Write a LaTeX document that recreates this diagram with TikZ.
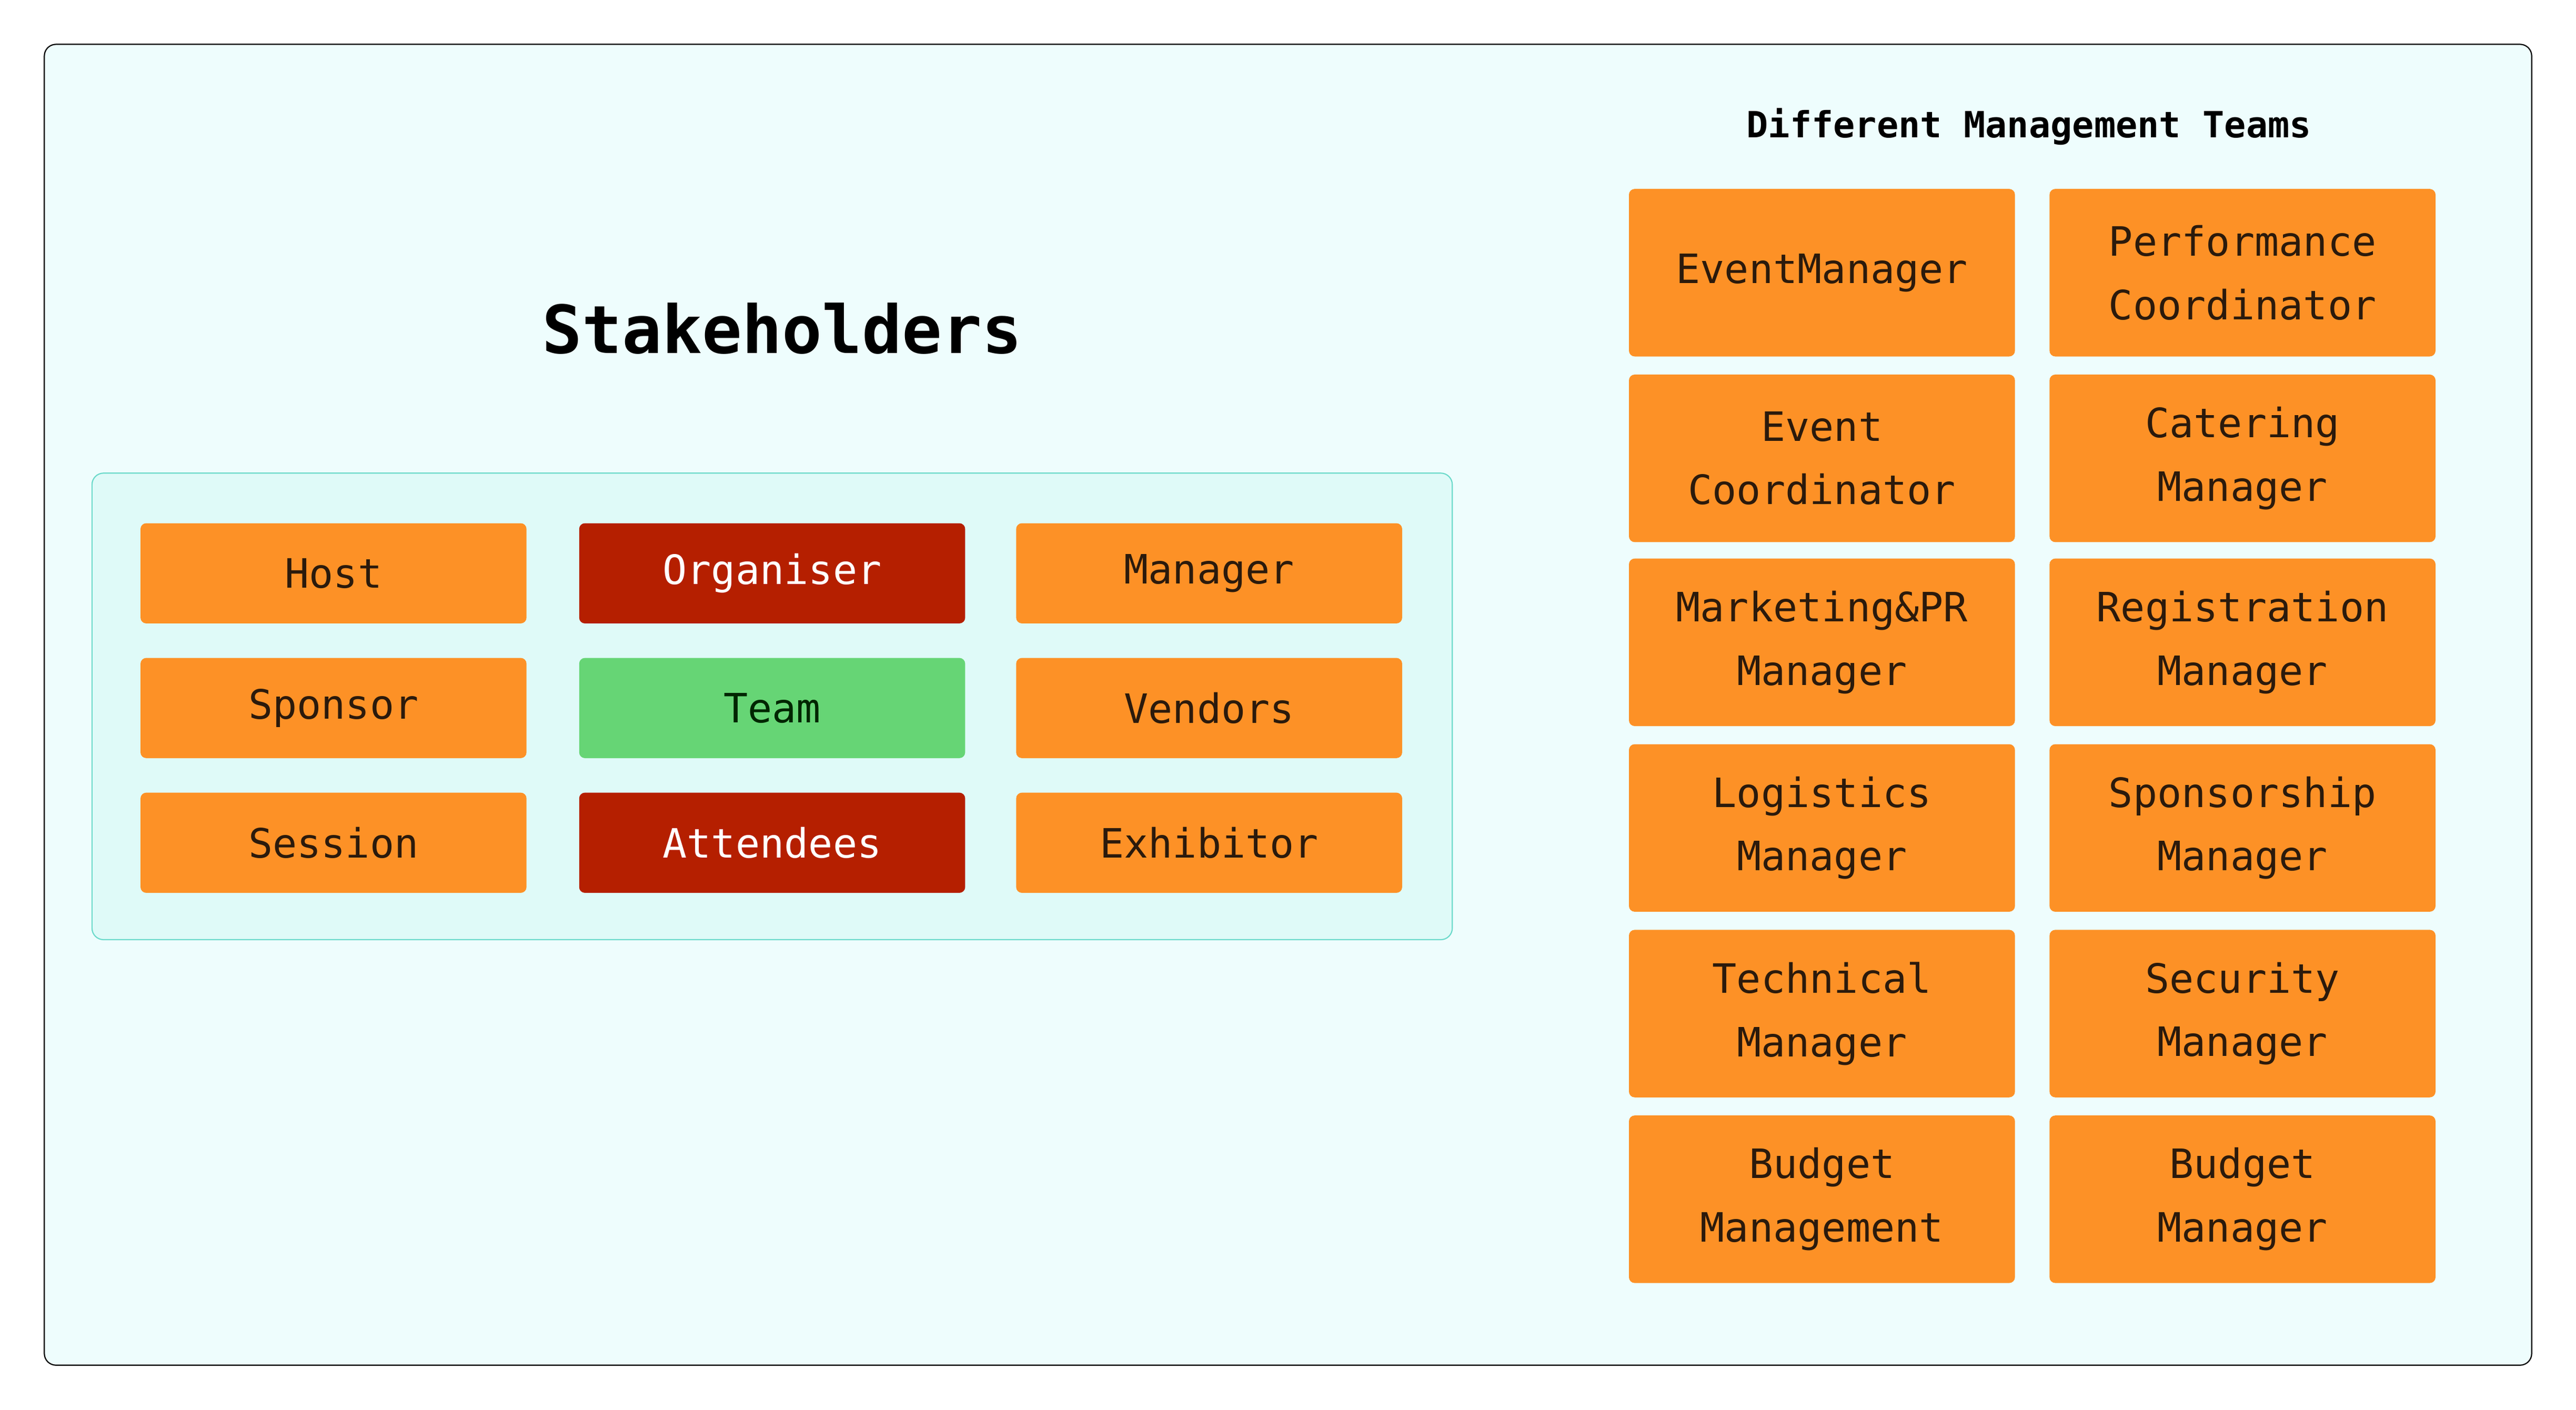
\documentclass[tikz,border=0pt]{standalone}
\usepackage{fontspec}
\setmainfont{DejaVu Sans Mono}
\usetikzlibrary{positioning}
\definecolor{frameback}{HTML}{EEFDFD}
\definecolor{innerback}{HTML}{DFFAF8}
\definecolor{innerline}{HTML}{6DDACB}
\definecolor{orangebox}{HTML}{FD9126}
\definecolor{redbox}{HTML}{B51F00}
\definecolor{greenbox}{HTML}{66D575}
\definecolor{darktext}{HTML}{2B1A0C}
\tikzset{
  role/.style={rectangle, rounded corners=2pt, fill=orangebox, text=darktext,
    minimum width=4.7cm, minimum height=1.22cm, inner sep=0pt, font=\fontsize{14}{17}\selectfont},
  lead/.style={role, fill=redbox, text=white},
  crew/.style={role, fill=greenbox, text=black!85!green},
  teambox/.style={role, minimum height=2.04cm, align=center, font=\fontsize{14}{22}\selectfont}
}
\begin{document}
\begin{tikzpicture}[x=0.02cm, y=-0.02cm]
        \useasboundingbox[fill=white] (0,0) rectangle (1568,858);
        % Frames
        \draw[fill=frameback, rounded corners=4pt] (27,27) rectangle (1541,831);
        \draw[fill=innerback, draw=innerline, rounded corners=4pt] (56,288) rectangle (884,572);
        
        % Titles
        \node (stake) at (476,200) {\fontsize{23}{26}\selectfont\bfseries Stakeholders};
        \node (teams) at (1235,77) {\fontsize{12.5}{15}\selectfont\bfseries Different Management Teams};
        
        % Stakeholders
        \node (host) [role] at (203,349) {Host};
        \node (organiser) [lead] at (470,349) {Organiser};
        \node (manager) [role] at (736,349) {Manager};
        \node (sponsor) [role] at (203,431) {Sponsor};
        \node (team) [crew] at (470,431) {Team};
        \node (vendors) [role] at (736,431) {Vendors};
        \node (session) [role] at (203,513) {Session};
        \node (attendees) [lead] at (470,513) {Attendees};
        \node (exhibitor) [role] at (736,513) {Exhibitor};
        
        % Management teams
        \node (eventmgr) [teambox] at (1109,166) {EventManager};
        \node (perfco) [teambox] at (1365,166) {Performance\\Coordinator};
        \node (eventco) [teambox] at (1109,279) {Event\\Coordinator};
        \node (catering) [teambox] at (1365,279) {Catering\\Manager};
        \node (marketing) [teambox] at (1109,391) {Marketing\&PR\\Manager};
        \node (registration) [teambox] at (1365,391) {Registration\\Manager};
        \node (logistics) [teambox] at (1109,504) {Logistics\\Manager};
        \node (sponsorship) [teambox] at (1365,504) {Sponsorship\\Manager};
        \node (technical) [teambox] at (1109,617) {Technical\\Manager};
        \node (security) [teambox] at (1365,617) {Security\\Manager};
        \node (budgetmgmt) [teambox] at (1109,730) {Budget\\Management};
        \node (budgetmgr) [teambox] at (1365,730) {Budget\\Manager};
    
    \end{tikzpicture}
\end{document}
